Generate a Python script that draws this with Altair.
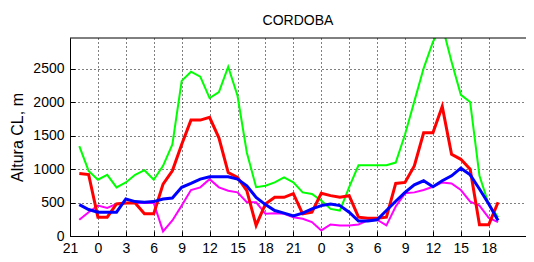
import altair as alt
import pandas as pd

# hours since 21h of day 1 (one value per hour)
hours = list(range(1, 47))

green = [1346, 975, 842, 916, 728, 802, 916, 985, 842, 1050,
         1371, 2322, 2460, 2386, 2064, 2153, 2534, 2100, 1250, 730,
         752, 802, 876, 802, 653, 629, 530, 406, 381, 730,
         1059, 1059, 1059, 1059, 1099, 1520, 2015, 2510, 2906, 3150,
         2609, 2113, 2005, 900, 470, 282]

red = [935, 920, 282, 282, 480, 495, 495, 332, 332, 777,
       975, 1371, 1735, 1735, 1777, 1470, 950, 876, 678, 158,
       480, 579, 579, 635, 332, 356, 639, 604, 579, 604,
       282, 267, 267, 282, 787, 802, 1049, 1544, 1544, 1940,
       1223, 1148, 1000, 170, 170, 505]

magenta = [243, 356, 455, 420, 480, 495, 495, 495, 495, 69,
           233, 455, 688, 728, 851, 728, 678, 653, 505, 505,
           332, 342, 332, 282, 257, 208, 84, 173, 158, 158,
           173, 233, 243, 158, 441, 639, 653, 688, 738, 802,
           787, 688, 515, 455, 272, 208]

blue = [470, 396, 356, 356, 356, 554, 515, 505, 515, 554,
        569, 728, 787, 851, 886, 886, 886, 851, 752, 579,
        470, 381, 342, 300, 342, 406, 455, 480, 455, 356,
        223, 223, 243, 381, 520, 653, 767, 827, 738, 827,
        901, 1015, 916, 703, 480, 233]

x_tick_values = list(range(0, 46, 3))   # labelled 21, 0, 3, ... 18
y_tick_values = [0, 500, 1000, 1500, 2000, 2500]
x_domain = [0, 49]
y_domain = [0, 2964]

series = [
    ("green", green, "#00ff00", 2),
    ("magenta", magenta, "#ff00ff", 2),
    ("red", red, "#ff0000", 3),
    ("blue", blue, "#0000ff", 3),
]

rows = []
for name, vals, _, _ in series:
    for h, v in zip(hours, vals):
        rows.append({"h": h, "v": v, "serie": name})
df = pd.DataFrame(rows)

FONT = "Liberation Sans"
x_scale = alt.Scale(domain=x_domain, nice=False, zero=False)
y_scale = alt.Scale(domain=y_domain, nice=False)

x_axis = alt.Axis(
    values=x_tick_values,
    labelExpr="(21 + datum.value) % 24",
    title=None,
    grid=True,
    gridDash=[1, 3],
    gridColor="black",
    gridOpacity=1,
    ticks=True,
    tickSize={"expr": "-5"},
    tickColor="black",
    labelPadding=10,
    labelFontSize=14,
    labelFont=FONT,
    labelColor="black",
    domainColor="black",
    labelFlush=False,
)
y_axis = alt.Axis(
    values=y_tick_values,
    title="Altura CL, m",
    titleFont=FONT,
    titleFontSize=16,
    titleFontWeight="normal",
    titleColor="black",
    titlePadding=7,
    grid=True,
    gridDash=[1, 3],
    gridColor="black",
    gridOpacity=1,
    ticks=True,
    tickSize={"expr": "-5"},
    tickColor="black",
    labelPadding=11,
    labelFontSize=14,
    labelFont=FONT,
    labelColor="black",
    domainColor="black",
    labelFlush=False,
    format="d",
)

base = alt.Chart(df)
layers = []
for name, _, color, width in series:
    layers.append(
        base.transform_filter(alt.datum.serie == name)
        .mark_line(color=color, strokeWidth=width, clip=True)
        .encode(
            x=alt.X("h:Q", scale=x_scale, axis=x_axis),
            y=alt.Y("v:Q", scale=y_scale, axis=y_axis),
        )
    )

# top frame line of the plot box (at the top of the y domain)
frame_top = (
    alt.Chart()
    .mark_rule(color="black", strokeWidth=1)
    .encode(
        x=alt.XDatum(x_domain[0], scale=x_scale, axis=x_axis),
        x2=alt.X2Datum(x_domain[1]),
        y=alt.YDatum(y_domain[1], scale=y_scale, axis=y_axis),
    )
)
layers.append(frame_top)

chart = (
    alt.layer(*layers)
    .properties(
        width=456,
        height=198,
        autosize=alt.AutoSizeParams(type="none"),
        padding={"left": 62, "top": 30, "right": 0, "bottom": 18},
        title=alt.TitleParams(
            "CORDOBA", font=FONT, fontSize=14, fontWeight="normal",
            color="black", offset=10, anchor="middle"
        ),
    )
    .configure_view(stroke=None)
)

chart.save("out.html", embed_options={"renderer": "svg", "actions": False})
